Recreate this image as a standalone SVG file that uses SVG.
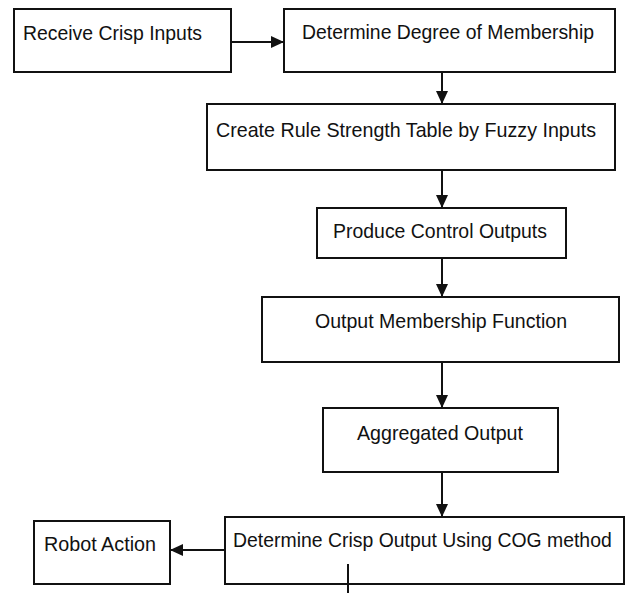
<svg xmlns="http://www.w3.org/2000/svg" width="626" height="593" viewBox="0 0 626 593">
<style>
.box{fill:#fff;stroke:#111;stroke-width:2}
.lbl{font-family:"Liberation Sans",Arial,sans-serif;font-size:21px;fill:#111}
.con{stroke:#111;stroke-width:2;fill:none;marker-end:url(#ah)}
</style>
<defs>
<marker id="ah" markerUnits="userSpaceOnUse" markerWidth="14" markerHeight="14" viewBox="0 0 14 14" refX="13" refY="7" orient="auto">
<path d="M0,1 L13,7 L0,13 Z" fill="#111"/>
</marker>
</defs>
<rect width="626" height="593" fill="#fff"/>
<g id="n1"><rect class="box" x="14" y="9" width="217" height="63"/><text class="lbl" x="23" y="40" textLength="179" lengthAdjust="spacingAndGlyphs">Receive Crisp Inputs</text></g>
<g id="n2"><rect class="box" x="284" y="9" width="331" height="63"/><text class="lbl" x="302" y="39" textLength="292" lengthAdjust="spacingAndGlyphs">Determine Degree of Membership</text></g>
<g id="n3"><rect class="box" x="207" y="104" width="408" height="66"/><text class="lbl" x="216" y="137" textLength="380" lengthAdjust="spacingAndGlyphs">Create Rule Strength Table by Fuzzy Inputs</text></g>
<g id="n4"><rect class="box" x="317" y="208" width="249" height="50"/><text class="lbl" x="333" y="238" textLength="214" lengthAdjust="spacingAndGlyphs">Produce Control Outputs</text></g>
<g id="n5"><rect class="box" x="262" y="297" width="357" height="65"/><text class="lbl" x="315" y="328" textLength="252" lengthAdjust="spacingAndGlyphs">Output Membership Function</text></g>
<g id="n6"><rect class="box" x="323" y="408" width="235" height="64"/><text class="lbl" x="357" y="440" textLength="166" lengthAdjust="spacingAndGlyphs">Aggregated Output</text></g>
<g id="n7"><rect class="box" x="225" y="517" width="399" height="67"/><text class="lbl" transform="translate(233,547) scale(0.925,1)" x="0" y="0">Determine Crisp Output Using COG method</text></g>
<g id="n8"><rect class="box" x="34" y="521" width="136" height="63"/><text class="lbl" x="44" y="551" textLength="112" lengthAdjust="spacingAndGlyphs">Robot Action</text></g>
<g id="connectors">
<line class="con" x1="231" y1="42" x2="284" y2="42"/>
<line class="con" x1="442" y1="72" x2="442" y2="104"/>
<line class="con" x1="442" y1="170" x2="442" y2="208"/>
<line class="con" x1="442" y1="258" x2="442" y2="297"/>
<line class="con" x1="442" y1="362" x2="442" y2="408"/>
<line class="con" x1="442" y1="472" x2="442" y2="517"/>
<line class="con" x1="225" y1="550" x2="170" y2="550"/>
<line x1="348" y1="564" x2="348" y2="593" stroke="#111" stroke-width="2"/>
</g>
</svg>
